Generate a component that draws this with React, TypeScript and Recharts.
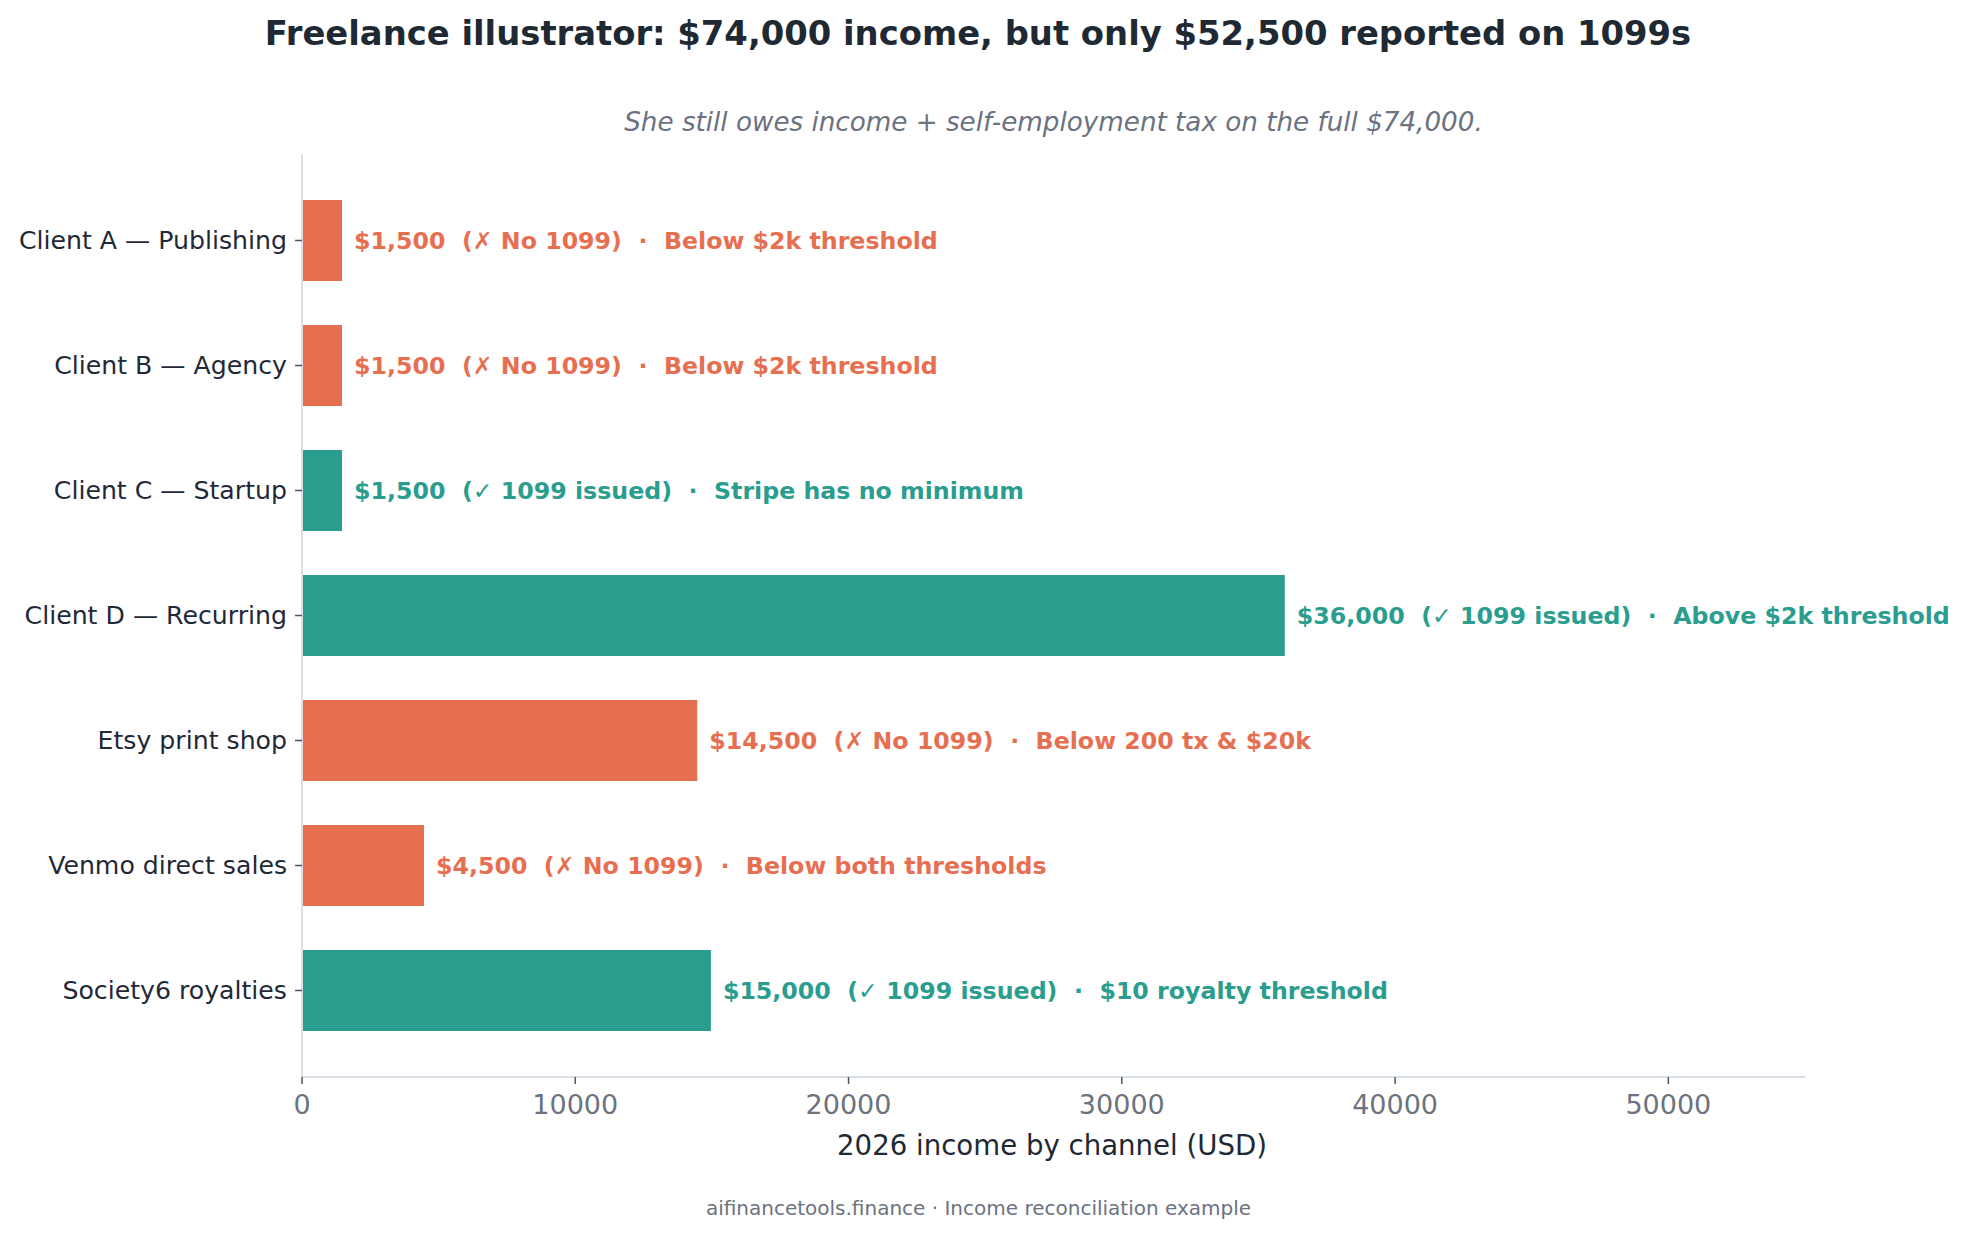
import React from "react"
import {
  BarChart,
  Bar,
  Cell,
  XAxis,
  YAxis,
  LabelList,
} from "recharts"

const channels = [
  "Client A — Publishing",
  "Client B — Agency",
  "Client C — Startup",
  "Client D — Recurring",
  "Etsy print shop",
  "Venmo direct sales",
  "Society6 royalties",
]

const amounts = [1500, 1500, 1500, 36000, 14500, 4500, 15000]

const issued = [false, false, true, true, false, false, true]

const notes = [
  "Below $2k threshold",
  "Below $2k threshold",
  "Stripe has no minimum",
  "Above $2k threshold",
  "Below 200 tx & $20k",
  "Below both thresholds",
  "$10 royalty threshold",
]

const xTicks = [0, 10000, 20000, 30000, 40000, 50000]

const ORANGE = "#E76F51"
const TEAL = "#2A9D8F"
const FONT = "'DejaVu Sans', sans-serif"

const data = channels.map((name, i) => ({
  name,
  amount: amounts[i],
  issued: issued[i],
  note: notes[i],
}))

function BarLabel(props: any) {
  const { x, y, width, height, index } = props
  const row = data[index]
  const status = row.issued ? "✓ 1099 issued" : "✗ No 1099"
  const text = `$${row.amount.toLocaleString("en-US")}  (${status})  ·  ${row.note}`
  return (
    <text
      x={x + width + 11}
      y={y + height / 2}
      dy="0.36em"
      fill={row.issued ? TEAL : ORANGE}
      fontFamily={FONT}
      fontWeight="bold"
      fontSize={23.7}
      style={{ whiteSpace: "pre" }}
    >
      {text}
    </text>
  )
}

export default function App() {
  return (
    <div
      style={{
        position: "absolute",
        left: 0,
        top: 0,
        width: 1967,
        height: 1237,
        background: "#ffffff",
      }}
    >
      <BarChart
        width={1967}
        height={1237}
        data={data}
        layout="vertical"
        margin={{ top: 154, right: 162, bottom: 0, left: 0 }}
      >
        <XAxis
          type="number"
          domain={[0, 55000]}
          ticks={xTicks}
          allowDataOverflow
          height={160}
          stroke="#cbd5e1"
          strokeWidth={1.5}
          tickSize={7}
          tickMargin={11}
          tickLine={{ stroke: "#4b5563", strokeWidth: 1.5 }}
          tick={{ fill: "#6b7280", fontSize: 27, fontFamily: FONT }}
        />
        <YAxis
          type="category"
          dataKey="name"
          width={302}
          padding={{ top: 24, bottom: 24 }}
          stroke="#cbd5e1"
          strokeWidth={1.5}
          tickSize={7}
          tickMargin={8}
          tickLine={{ stroke: "#4b5563", strokeWidth: 1.5 }}
          tick={{ fill: "#1f2937", fontSize: 25.2, fontFamily: FONT }}
          interval={0}
        />
        <Bar
          dataKey="amount"
          barSize={83}
          stroke="#ffffff"
          strokeWidth={2}
          isAnimationActive={false}
        >
          {data.map((d, i) => (
            <Cell key={i} fill={d.issued ? TEAL : ORANGE} />
          ))}
          <LabelList dataKey="amount" content={BarLabel} />
        </Bar>
      </BarChart>

      <svg
        width={1967}
        height={1237}
        style={{ position: "absolute", left: 0, top: 0, pointerEvents: "none" }}
      >
        <text
          x={978}
          y={45}
          textAnchor="middle"
          fontFamily={FONT}
          fontWeight="bold"
          fontSize={33.8}
          fill="#1f2933"
        >
          Freelance illustrator: $74,000 income, but only $52,500 reported on 1099s
        </text>
        <text
          x={1053.5}
          y={131}
          textAnchor="middle"
          fontFamily={FONT}
          fontStyle="italic"
          fontSize={26.2}
          fill="#6b7280"
        >
          She still owes income + self-employment tax on the full $74,000.
        </text>
        <text
          x={1052}
          y={1155}
          textAnchor="middle"
          fontFamily={FONT}
          fontSize={27.6}
          fill="#1f2933"
        >
          2026 income by channel (USD)
        </text>
        <text
          x={978.5}
          y={1215}
          textAnchor="middle"
          fontFamily={FONT}
          fontSize={20}
          fill="#6b7280"
        >
          aifinancetools.finance · Income reconciliation example
        </text>
      </svg>
    </div>
  )
}
